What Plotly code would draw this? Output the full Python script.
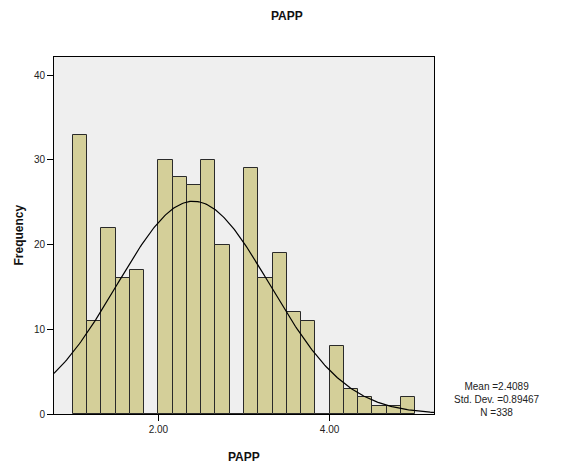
import numpy as np
import plotly.graph_objects as go

# Histogram bins (lower edges) and frequencies
bin_start = 1.0
bin_width = 1.0 / 6.0
counts = [33, 11, 22, 16, 17, 0,
          30, 28, 27, 30, 20, 0,
          29, 16, 19, 12, 11, 0,
          8, 3, 2, 1, 1, 2]

# Summary statistics shown in the legend
mean_val = 2.4089
sd_val = 0.89467
n_val = 338

x_ticks = [2.0, 4.0]
x_tick_labels = ["2.00", "4.00"]
y_ticks = [0, 10, 20, 30, 40]

x_range = [0.78, 5.22]
y_range = [0, 42.15]

centers = [bin_start + bin_width * (i + 0.5) for i in range(len(counts))]

# Normal curve fitted from the stated mean / sd, scaled to counts
xc = np.linspace(x_range[0], x_range[1], 300)
yc = n_val * bin_width / (sd_val * np.sqrt(2 * np.pi)) * np.exp(-0.5 * ((xc - mean_val) / sd_val) ** 2)

fig = go.Figure()
fig.add_trace(go.Bar(
    x=centers, y=counts, width=bin_width,
    marker=dict(color="#d4cf99", line=dict(color="#2a2a2a", width=1)),
    showlegend=False, hoverinfo="x+y",
))
fig.add_trace(go.Scatter(
    x=xc, y=yc, mode="lines",
    line=dict(color="black", width=1.2),
    showlegend=False, hoverinfo="skip",
))

font_family = "Liberation Sans, Arial, sans-serif"

# page body has an 8px margin, so the figure is 8px smaller and offset
fig.update_layout(
    width=558, height=462,
    margin=dict(l=46, r=132, t=49, b=56),
    paper_bgcolor="white",
    plot_bgcolor="#efefef",
    font=dict(family=font_family, size=10, color="#222"),
    bargap=0,
    xaxis=dict(
        range=x_range, tickvals=x_ticks, ticktext=x_tick_labels,
        showgrid=False, zeroline=False,
        showline=True, linecolor="black", linewidth=1, mirror=True,
        ticks="outside", ticklen=6, tickcolor="black", tickwidth=1,
        tickfont=dict(size=10, color="#222"),
    ),
    yaxis=dict(
        range=y_range, tickvals=y_ticks,
        showgrid=False, zeroline=False,
        showline=True, linecolor="black", linewidth=1, mirror=True,
        ticks="outside", ticklen=6, tickcolor="black", tickwidth=1,
        tickfont=dict(size=10, color="#222"),
    ),
    annotations=[
        dict(text="<b>PAPP</b>", xref="paper", yref="paper",
             x=(287 - 54) / 380, y=(414 - 16) / 357,
             xanchor="center", yanchor="middle", showarrow=False,
             font=dict(size=12, color="#111", family=font_family)),
        dict(text="<b>PAPP</b>", xref="paper", yref="paper",
             x=0.5, y=(414 - 457) / 357,
             xanchor="center", yanchor="middle", showarrow=False,
             font=dict(size=12, color="#111", family=font_family)),
        dict(text="<b>Frequency</b>", xref="paper", yref="paper",
             x=(18 - 54) / 380, y=0.5, textangle=-90,
             xanchor="center", yanchor="middle", showarrow=False,
             font=dict(size=12, color="#111", family=font_family)),
        dict(text=f"Mean ={mean_val}<br>Std. Dev. ={sd_val}<br>N ={n_val}",
             xref="paper", yref="paper",
             x=(497 - 54) / 380, y=(414 - 399) / 357,
             xanchor="center", yanchor="middle", align="center", showarrow=False,
             font=dict(size=10, color="#222", family=font_family)),
    ],
)

fig.write_html("out.html")
